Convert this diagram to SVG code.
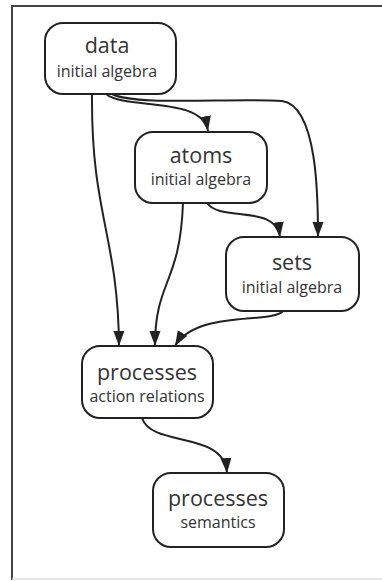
<svg xmlns="http://www.w3.org/2000/svg" width="382" height="581" viewBox="0 0 382 581">
  <style>
    .node rect { fill: #fff; stroke: #222; stroke-width: 2; }
    .title { font-family: "Open Sans", "Noto Sans", sans-serif; font-size: 21.5px; fill: #333; text-anchor: middle; }
    .sub { font-family: "Open Sans", "Noto Sans", sans-serif; font-size: 16px; fill: #333; text-anchor: middle; }
    .edge { fill: none; stroke: #222; stroke-width: 2; marker-end: url(#arrow); }
    .frame { stroke: #444; stroke-width: 2; fill: none; }
  </style>
  <defs>
    <marker id="arrow" markerUnits="userSpaceOnUse" markerWidth="16" markerHeight="12" refX="15" refY="5.5" orient="auto">
      <path d="M0,0 L15,5.5 L0,11 Z" fill="#222"/>
    </marker>
  </defs>
  <rect width="382" height="581" fill="#fff"/>
  <!-- frame -->
  <g id="frame">
    <path class="frame" d="M12,580 V6 H382"/>
    <path d="M12,579 H382" stroke="#ddd" stroke-width="1.5"/>
  </g>
  <!-- connectors -->
  <g id="edges">
    <path class="edge" d="M92,94 C91,215 118,235 119,346"/>
    <path class="edge" d="M106,94 C125,110 202,96 208,131"/>
    <path class="edge" d="M112,94 C135,106 230,98 282,101 C318,106 318,200 318,237"/>
    <path class="edge" d="M183,203 C180,285 155,280 155,346"/>
    <path class="edge" d="M207,203 C220,222 276,204 280,237"/>
    <path class="edge" d="M283,311 C272,324 196,310 175,346"/>
    <path class="edge" d="M142,418 C152,448 224,430 227,473"/>
  </g>
  <!-- nodes -->
  <g id="data" class="node">
    <rect x="45" y="23" width="131" height="71" rx="18"/>
    <text class="title" x="107" y="53">data</text>
    <text class="sub" x="107" y="77">initial algebra</text>
  </g>
  <g id="atoms" class="node">
    <rect x="135" y="132" width="132" height="71" rx="18"/>
    <text class="title" x="201" y="163">atoms</text>
    <text class="sub" x="201" y="185">initial algebra</text>
  </g>
  <g id="sets" class="node">
    <rect x="226" y="237" width="133" height="74" rx="18"/>
    <text class="title" x="292" y="270">sets</text>
    <text class="sub" x="292" y="293">initial algebra</text>
  </g>
  <g id="processes-action" class="node">
    <rect x="82" y="346" width="131" height="72" rx="18"/>
    <text class="title" x="147" y="380">processes</text>
    <text class="sub" x="147" y="402">action relations</text>
  </g>
  <g id="processes-semantics" class="node">
    <rect x="153" y="473" width="131" height="74" rx="18"/>
    <text class="title" x="218" y="506">processes</text>
    <text class="sub" x="218" y="528">semantics</text>
  </g>
</svg>
